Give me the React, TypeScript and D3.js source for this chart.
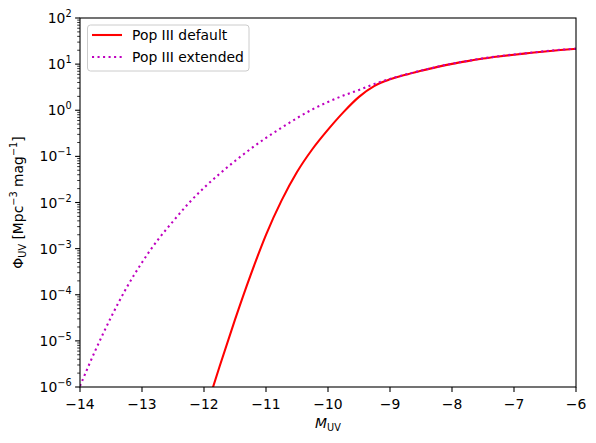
import React from 'react';
import * as d3 from 'd3';

// absolute magnitude grid (M_UV)
const magGrid = [
  -14.0, -13.75, -13.5, -13.25, -13.0, -12.75, -12.5, -12.25, -12.0, -11.75, -11.5, -11.25,
  -11.0, -10.75, -10.5, -10.25, -10.0, -9.75, -9.5, -9.25, -9.0, -8.75, -8.5, -8.25,
  -8.0, -7.75, -7.5, -7.25, -7.0, -6.75, -6.5, -6.25, -6.0,
];

// log10 Phi_UV, Pop III default (null = off the chart)
const logPhiDefault = [
  null, null, null, null, null, null, null, null, -6.62, -5.56, -4.54, -3.58,
  -2.70, -1.96, -1.34, -0.84, -0.42, -0.04, 0.29, 0.53, 0.67, 0.77, 0.855, 0.935,
  1.005, 1.065, 1.12, 1.165, 1.205, 1.24, 1.275, 1.305, 1.33,
];

// log10 Phi_UV, Pop III extended
const logPhiExtended = [
  -5.98, -5.20, -4.49, -3.85, -3.30, -2.82, -2.41, -2.02, -1.68, -1.38, -1.10, -0.84,
  -0.60, -0.38, -0.17, 0.02, 0.18, 0.32, 0.44, 0.57, 0.68, 0.775, 0.86, 0.94,
  1.01, 1.07, 1.125, 1.17, 1.21, 1.245, 1.28, 1.31, 1.335,
];

const xTicks = [-14, -13, -12, -11, -10, -9, -8, -7, -6];
const yExps = [-6, -5, -4, -3, -2, -1, 0, 1, 2];

const W = 596;
const H = 443;
const m = { left: 80, right: 576, top: 18, bottom: 387 };
const FONT = 'DejaVu Sans, sans-serif';
const FS = 13.9;

const minus = (v: number) => (v < 0 ? '\u2212' + Math.abs(v) : String(v));

export default function App() {
  const x = d3.scaleLinear().domain([-14, -6]).range([m.left, m.right]);
  const y = d3.scaleLog().domain([1e-6, 1e2]).range([m.bottom, m.top]);

  const makeLine = (vals: (number | null)[]) =>
    d3.line<number>()
      .defined((_, i) => vals[i] !== null)
      .curve(d3.curveMonotoneX)
      .x((d) => x(d))
      .y((_, i) => y(Math.pow(10, vals[i] as number)))(magGrid);

  const minorY: number[] = [];
  for (let e = -6; e < 2; e++) {
    for (let k = 2; k <= 9; k++) minorY.push(k * Math.pow(10, e));
  }

  return (
    <svg width={W} height={H} style={{ position: 'fixed', left: 0, top: 0, background: '#fff' }}
      fontFamily={FONT}>
      <defs>
        <clipPath id="plot-clip">
          <rect x={m.left} y={m.top} width={m.right - m.left} height={m.bottom - m.top} />
        </clipPath>
      </defs>

      <g clipPath="url(#plot-clip)">
        <path d={makeLine(logPhiDefault) || ''} fill="none" stroke="#ff0000" strokeWidth={2.08} />
        <path d={makeLine(logPhiExtended) || ''} fill="none" stroke="#bf00bf" strokeWidth={2.08}
          strokeDasharray="2.08,3.44" />
      </g>

      {/* axes frame */}
      <rect x={m.left} y={m.top} width={m.right - m.left} height={m.bottom - m.top}
        fill="none" stroke="#000" strokeWidth={1.1} />

      {/* x ticks */}
      {xTicks.map((t) => (
        <g key={'x' + t}>
          <line x1={x(t)} x2={x(t)} y1={m.bottom} y2={m.bottom + 4.9} stroke="#000" strokeWidth={1.1} />
          <text x={x(t)} y={m.bottom + 22} fontSize={FS} textAnchor="middle">{minus(t)}</text>
        </g>
      ))}

      {/* y ticks */}
      {yExps.map((e) => (
        <g key={'y' + e}>
          <line x1={m.left - 4.9} x2={m.left} y1={y(Math.pow(10, e))} y2={y(Math.pow(10, e))}
            stroke="#000" strokeWidth={1.1} />
          <text x={m.left - 8.4} y={y(Math.pow(10, e)) + 5} fontSize={FS} textAnchor="end">
            10<tspan dy={-6} fontSize={FS * 0.7}>{minus(e)}</tspan>
          </text>
        </g>
      ))}
      {minorY.map((v, i) => (
        <line key={'my' + i} x1={m.left - 2.8} x2={m.left} y1={y(v)} y2={y(v)} stroke="#000" strokeWidth={0.8} />
      ))}

      {/* axis labels */}
      <text x={(m.left + m.right) / 2} y={428} fontSize={FS} textAnchor="middle">
        <tspan fontStyle="italic">M</tspan>
        <tspan dy={3} fontSize={FS * 0.7}>UV</tspan>
      </text>
      <text transform={`translate(23,${(m.top + m.bottom) / 2}) rotate(-90)`} fontSize={FS} textAnchor="middle">
        Φ<tspan dy={3} fontSize={FS * 0.7}>UV</tspan>
        <tspan dy={-3}> [Mpc</tspan>
        <tspan dy={-6} fontSize={FS * 0.7}>−3</tspan>
        <tspan dy={6}> mag</tspan>
        <tspan dy={-6} fontSize={FS * 0.7}>−1</tspan>
        <tspan dy={6}>]</tspan>
      </text>

      {/* legend */}
      <g>
        <rect x={87.5} y={25} width={161.5} height={46} rx={3} fill="#fff" fillOpacity={0.8}
          stroke="#cccccc" strokeWidth={1} />
        <line x1={92} x2={122} y1={35} y2={35} stroke="#ff0000" strokeWidth={2.08} />
        <text x={132} y={40} fontSize={FS}>Pop III default</text>
        <line x1={92} x2={122} y1={57} y2={57} stroke="#bf00bf" strokeWidth={2.08} strokeDasharray="2.08,3.44" />
        <text x={132} y={62} fontSize={FS}>Pop III extended</text>
      </g>
    </svg>
  );
}
